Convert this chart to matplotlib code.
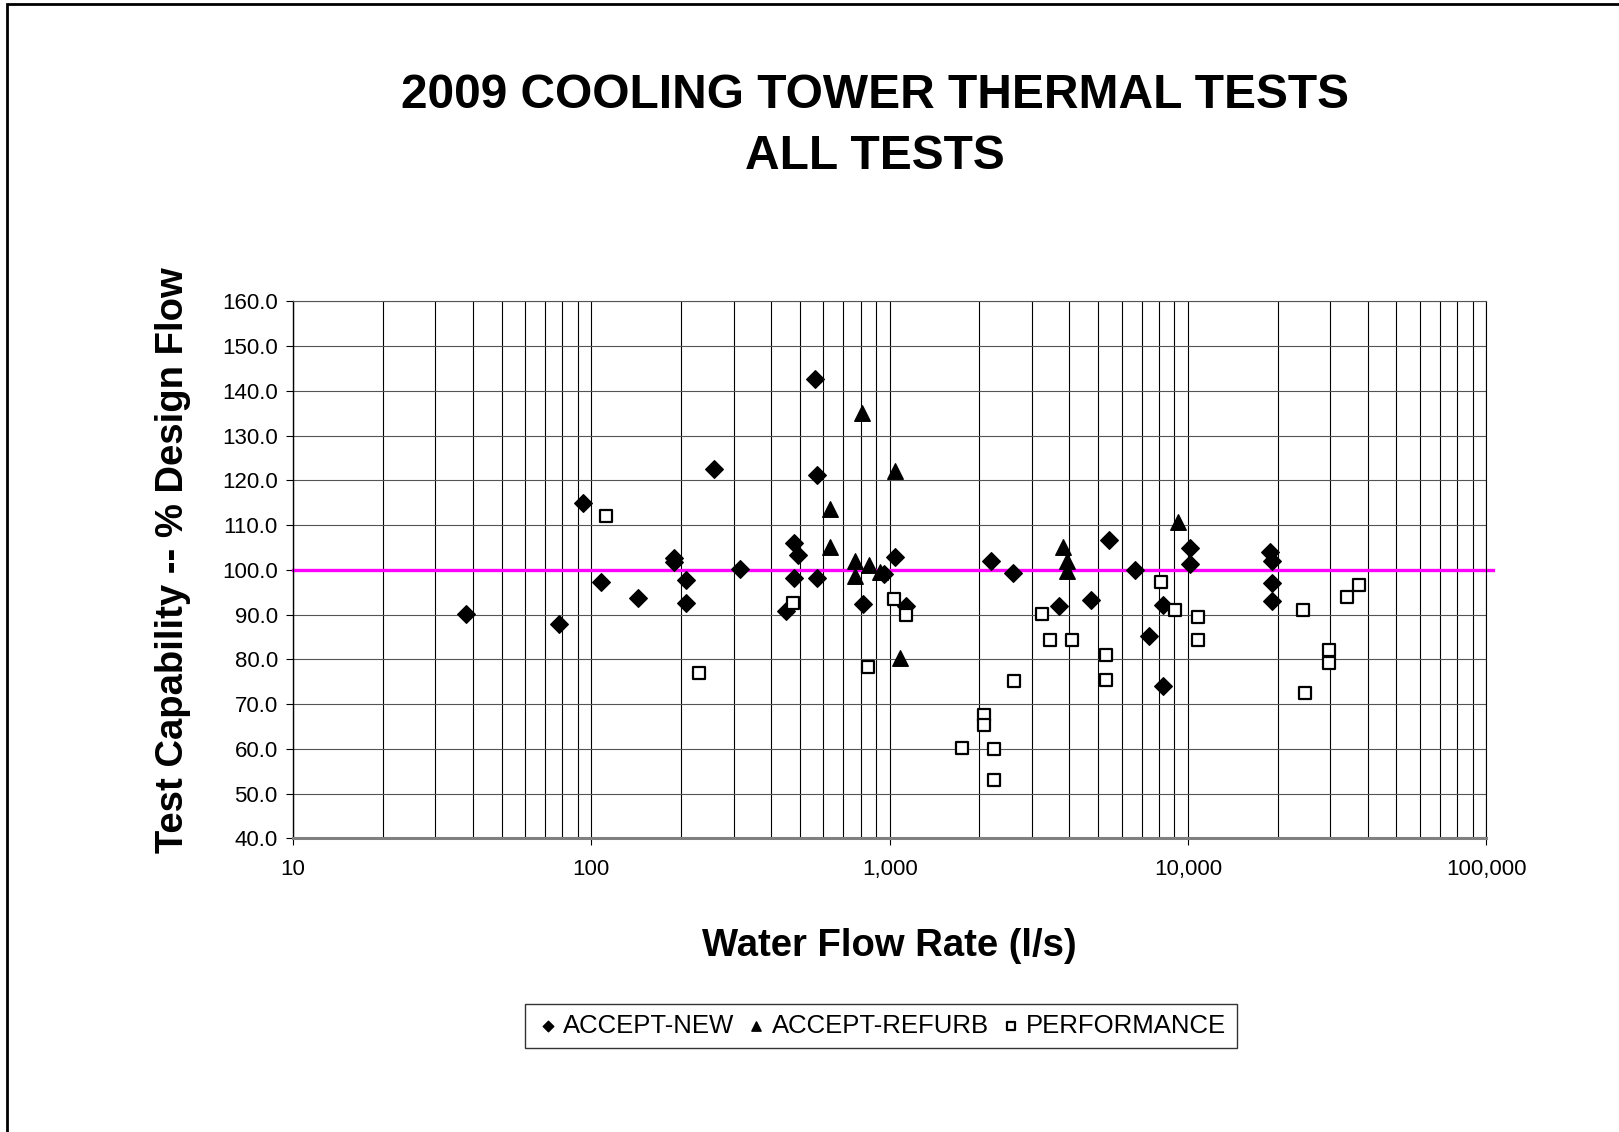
# 2009 cooling tower thermal tests - scatter of capability vs flow rate
import matplotlib.pyplot as plt
import matplotlib.ticker as ticker
from matplotlib.patches import Rectangle

plt.rcParams['font.family'] = ['Liberation Sans', 'DejaVu Sans']

# ACCEPT-NEW
new_flow = [37.9, 78.1, 93.7, 108, 143, 189, 189, 207, 207, 258, 315, 449, 477, 492,
            477, 564, 572, 572, 815, 955, 1045, 1137, 2188, 2583, 3683, 4722, 5450,
            6650, 7430, 8265, 8265, 10130, 10130, 18850, 19100, 19100, 19100]
new_cap = [90.1, 87.8, 115.0, 97.2, 93.7, 102.7, 101.7, 97.7, 92.7, 122.6, 100.3, 90.9,
           106.1, 103.4, 98.1, 142.7, 121.2, 98.1, 92.3, 99.1, 102.9, 91.9, 102.0, 99.4,
           92.0, 93.3, 106.6, 100.0, 85.2, 92.2, 74.0, 104.8, 101.3, 103.9, 102.0, 97.1,
           93.1]

# ACCEPT-REFURB
refurb_flow = [630, 630, 768, 768, 806, 855, 926, 1045, 1080, 3808, 3928, 3928, 9255]
refurb_cap = [113.7, 105.2, 101.9, 98.6, 135.0, 101.1, 99.6, 122.1, 80.3, 105.2, 101.9,
              99.7, 110.7]

# PERFORMANCE
perf_flow = [112.3, 230, 475, 849, 1037, 1137, 1750, 2069, 2069, 2240, 2240, 2612, 3243,
             3438, 4084, 5305, 5305, 8094, 9020, 10830, 10830, 24260, 24700, 29710,
             29710, 34060, 37400]
perf_cap = [112.1, 76.9, 92.5, 78.3, 93.4, 89.9, 60.3, 67.5, 65.3, 59.9, 53.1, 75.1, 90.2,
            84.3, 84.3, 80.9, 75.4, 97.4, 91.1, 89.4, 84.4, 91.1, 72.4, 82.1, 79.2, 93.9,
            96.6]

x_ticks = [10, 100, 1000, 10000, 100000]
x_tick_labels = ['10', '100', '1,000', '10,000', '100,000']
y_ticks = [40, 50, 60, 70, 80, 90, 100, 110, 120, 130, 140, 150, 160]

fig = plt.figure(figsize=(16.19, 11.32), dpi=100)
ax = fig.add_axes([0.181, 0.2594, 0.737, 0.4743])

ax.set_xscale('log')
ax.set_xlim(10, 100000)
ax.set_ylim(40, 160)

# grid: vertical black (major+minor), horizontal gray
ax.grid(which='both', axis='x', color='black', linewidth=0.8)
ax.grid(which='major', axis='y', color='#555555', linewidth=0.8)
ax.set_axisbelow(True)

# 100 % reference line
ax.axhline(100, xmin=0, xmax=1.006, color='#ff00ff', linewidth=2.4, clip_on=False, zorder=2)

ax.scatter(new_flow, new_cap, marker='D', s=80, color='black', zorder=3, label='ACCEPT-NEW')
ax.scatter(refurb_flow, refurb_cap, marker='^', s=125, color='black', zorder=3,
           label='ACCEPT-REFURB')
ax.scatter(perf_flow, perf_cap, marker='s', s=85, facecolors='white', edgecolors='black',
           linewidths=1.6, zorder=3, label='PERFORMANCE')

ax.xaxis.set_major_locator(ticker.FixedLocator(x_ticks))
ax.xaxis.set_major_formatter(ticker.FixedFormatter(x_tick_labels))
ax.xaxis.set_minor_formatter(ticker.NullFormatter())
ax.set_yticks(y_ticks)
ax.set_yticklabels(['%.1f' % v for v in y_ticks])
ax.tick_params(axis='both', which='major', labelsize=16, length=5, color='black')
ax.tick_params(axis='x', which='major', pad=10)
ax.tick_params(axis='y', which='major', pad=6)
ax.tick_params(axis='x', which='minor', length=0)

ax.spines['top'].set_color('#555555')
ax.spines['top'].set_linewidth(0.8)
ax.spines['right'].set_linewidth(0.8)
ax.spines['left'].set_linewidth(1.0)
ax.spines['bottom'].set_color('#808080')
ax.spines['bottom'].set_linewidth(2.2)

ax.set_xlabel('Water Flow Rate (l/s)', fontsize=27.5, fontweight='bold')
ax.set_ylabel('Test Capability -- % Design Flow', fontsize=27.5, fontweight='bold')
ax.xaxis.set_label_coords(0.5, -0.167)
ax.yaxis.set_label_coords(-0.0857, 0.519)

fig.text(0.5405, 0.916, '2009 COOLING TOWER THERMAL TESTS', ha='center', va='center',
         fontsize=34.5, fontweight='bold')
fig.text(0.5405, 0.862, 'ALL TESTS', ha='center', va='center', fontsize=34.5,
         fontweight='bold')

leg = fig.legend(loc='center', bbox_to_anchor=(0.544, 0.0936), ncol=3, fontsize=18.5,
                 frameon=True, fancybox=False, edgecolor='black', markerscale=0.6,
                 handletextpad=0.1, columnspacing=0.35, handlelength=1.0,
                 borderpad=0.4, borderaxespad=0.3)
leg.get_frame().set_linewidth(1.0)

# chart border (left and top visible)
fig.patches.append(Rectangle((0.0045, -0.05), 1.2, 0.05 + 1 - 0.0035, transform=fig.transFigure,
                             fill=False, edgecolor='black', linewidth=2))

plt.savefig('out.png', dpi=100)
